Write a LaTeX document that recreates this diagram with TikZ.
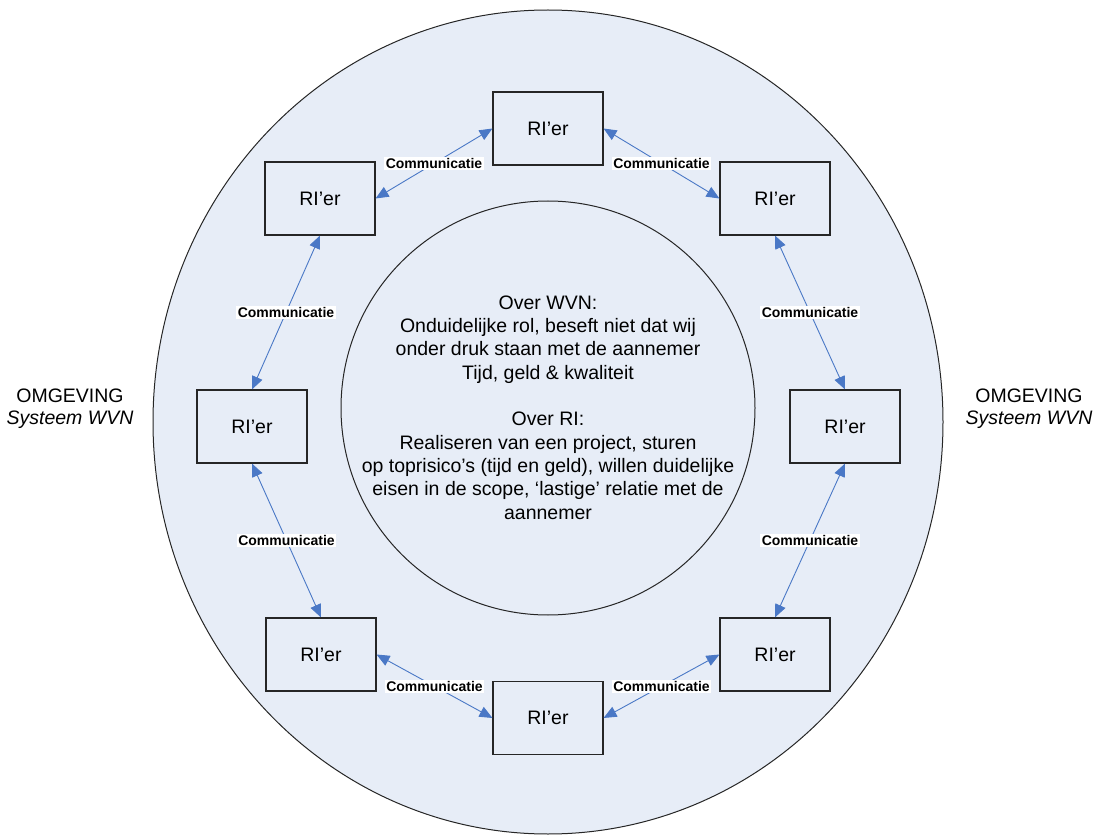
\documentclass[tikz,border=0pt]{standalone}
\usepackage{fontspec}
\setmainfont{Liberation Sans}
\usetikzlibrary{arrows.meta}
\definecolor{areafill}{HTML}{E7EDF7}
\definecolor{linkblue}{HTML}{4A78C6}
\tikzset{
  rolebox/.style={draw=black!85, line width=1.1pt, minimum width=110pt, minimum height=73pt,
    inner sep=0pt, font=\fontsize{19.5}{23.3}\selectfont},
  link/.style={draw=linkblue, line width=0.9pt,
    {Triangle[length=13pt,width=11pt]}-{Triangle[length=13pt,width=11pt]}},
  linklabel/.style={fill=white, inner sep=1.5pt, font=\fontsize{14}{16}\selectfont\bfseries},
  sidetext/.style={align=center, font=\fontsize{19.5}{22}\selectfont}
}
\begin{document}
\begin{tikzpicture}[x=1pt, y=-1pt]
\useasboundingbox (0,0) rectangle (1096,837);

% surrounding system
\filldraw[fill=areafill, draw=black!85, line width=1pt] (548,422) ellipse [x radius=395, y radius=412];
% core circle
\draw[black!85, line width=1pt] (548,408) circle [radius=207];

\node[sidetext] (envl) at (70,409) {OMGEVING\\\textit{Systeem WVN}};
\node[sidetext] (envr) at (1029,409) {OMGEVING\\\textit{Systeem WVN}};

\node[align=center, font=\fontsize{19.5}{23.3}\selectfont] (core) at (548,407.5)
  {Over WVN:\\Onduidelijke rol, beseft niet dat wij\\onder druk staan met de aannemer\\Tijd, geld \& kwaliteit\\[23.3pt]
   Over RI:\\Realiseren van een project, sturen\\op toprisico’s (tijd en geld), willen duidelijke\\eisen in de scope, ‘lastige’ relatie met de\\aannemer};

% the eight roles
\node[rolebox] (t)  at (548,128.5) {RI’er};
\node[rolebox] (tl) at (320,198.5) {RI’er};
\node[rolebox] (tr) at (775,198.5) {RI’er};
\node[rolebox] (l)  at (252,426.5) {RI’er};
\node[rolebox] (r)  at (845,426.5) {RI’er};
\node[rolebox] (bl) at (321,654.5) {RI’er};
\node[rolebox] (br) at (775,654.5) {RI’er};
\node[rolebox] (b)  at (548,718)   {RI’er};

% communication links
\draw[link] (tl.east) -- node[linklabel] {Communicatie} (t.west);
\draw[link] (t.east) -- node[linklabel] {Communicatie} (tr.west);
\draw[link] (tl.south) -- node[linklabel] {Communicatie} (l.north);
\draw[link] (tr.south) -- node[linklabel] {Communicatie} (r.north);
\draw[link] (l.south) -- node[linklabel] {Communicatie} (bl.north);
\draw[link] (r.south) -- node[linklabel] {Communicatie} (br.north);
\draw[link] (bl.east) -- node[linklabel] {Communicatie} (b.west);
\draw[link] (b.east) -- node[linklabel] {Communicatie} (br.west);
\end{tikzpicture}
\end{document}
